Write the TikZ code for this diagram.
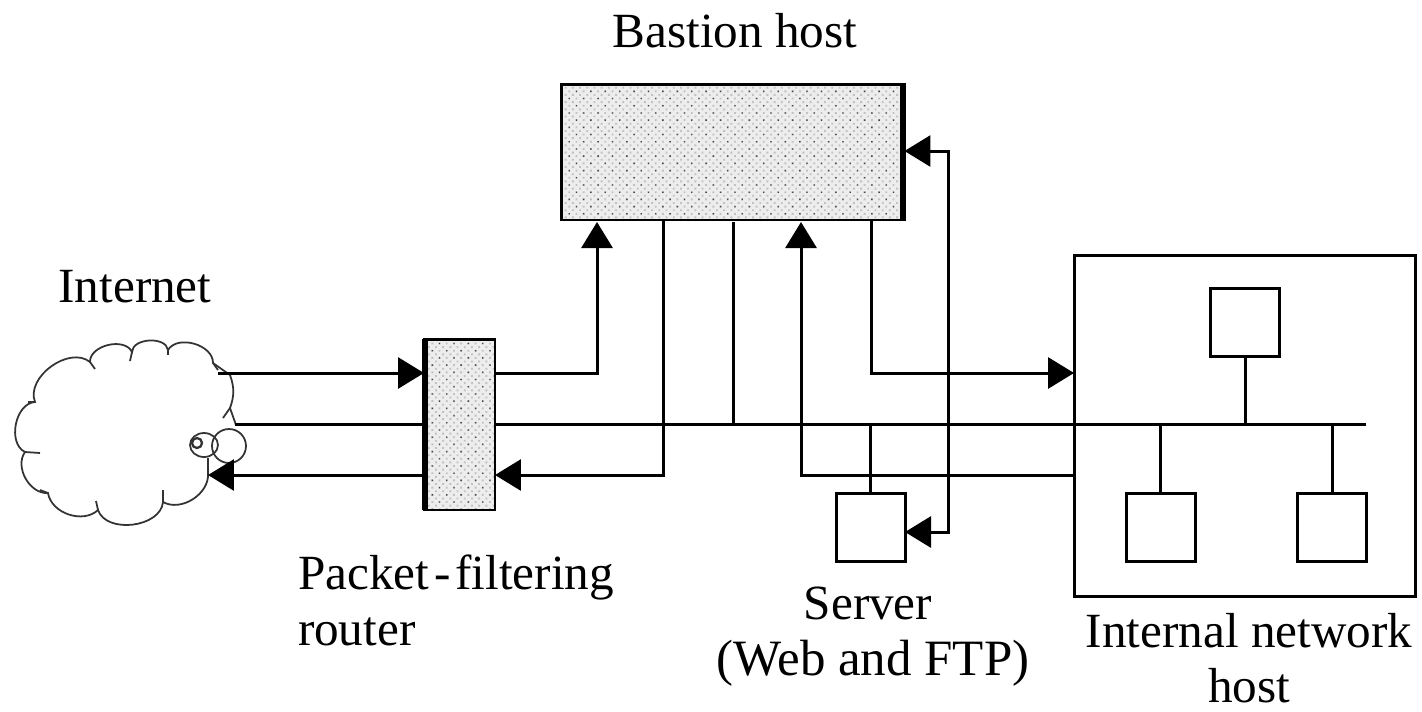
\documentclass[tikz,border=0pt]{standalone}
\usepackage{fontspec}
\setmainfont{Liberation Serif}
\usetikzlibrary{arrows.meta,patterns.meta}
\tikzset{
  wire/.style={line width=1.7pt},
  hostbox/.style={draw, line width=1.7pt, outer sep=0pt, inner sep=0pt, minimum width=1.38cm, minimum height=1.36cm},
  dotted box/.style={draw, line width=1.7pt, outer sep=0pt, inner sep=0pt,
    preaction={fill=black!7},
    preaction={pattern={Dots[distance=2.9pt,radius=0.75pt,angle=45]}, pattern color=black!24},
    pattern={Dots[distance=5.8pt,radius=0.55pt,angle=45]}, pattern color=black!72},
  caption/.style={font=\fontsize{28}{31.7}\selectfont, inner sep=0pt, outer sep=0pt},
  cloudline/.style={line width=1pt, black!80}
}
\begin{document}
\begin{tikzpicture}[x=0.02cm, y=-0.02cm, >={Triangle[length=0.52cm,width=0.62cm]}]
  \useasboundingbox (0,0) rectangle (1422,711);
  % Nube
  \draw[cloudline] (208,458) -- (208,473)
    to[bend left=62] (163,502) to[bend left=78] (98,510) to[bend left=62] (48,493)
    to[bend left=65] (25,452) to[bend left=75] (35,402) to[bend left=75] (90,362)
    to[bend left=78] (132,352) to[bend left=85] (168,350) to[bend left=75] (213,363)
    -- (230,375) to[bend left=20] (230,408) -- (236,425);
  \foreach \xa/\ya/\xb/\yb in {230/408/223/418, 163/502/163/490, 98/510/96/501, 48/493/40/490,
      25/452/40/453, 35/402/28/402, 90/362/95/369, 132/352/130/361, 168/350/168/355, 213/363/218/370}
    \draw[cloudline] (\xa,\ya) -- (\xb,\yb);
  \draw[cloudline] (204,445) ellipse (14 and 12);
  \draw[cloudline] (229,446) ellipse (17 and 17);
  \draw[cloudline, line width=1.3pt] (197,443) ellipse (5 and 5);
  \coordinate (cloudin) at (218,373);
  \coordinate (cloudbus) at (235,424);
  \coordinate (cloudout) at (208,475);
  % Cajas
  \node[dotted box, minimum width=1.42cm, minimum height=3.42cm] (router) at (459.5,424.5) {};
  \draw[line width=3.4pt] ([xshift=0.8pt]router.north west) -- ([xshift=0.8pt]router.south west);
  \node[dotted box, minimum width=6.86cm, minimum height=2.72cm] (bastion) at (733,152) {};
  \draw[line width=3.4pt] ([xshift=-0.8pt]bastion.north east) -- ([xshift=-0.8pt]bastion.south east);
  \node[hostbox] (server) at (870.5,527.5) {};
  \node[draw, wire, outer sep=0pt, inner sep=0pt, minimum width=6.84cm, minimum height=6.84cm] (internal) at (1245,426) {};
  \node[hostbox] (hosttop) at (1245,322.5) {};
  \node[hostbox] (hostleft) at (1160.5,527.5) {};
  \node[hostbox] (hostright) at (1332,527.5) {};
  % Bus
  \coordinate (busend) at (1366,424);
  \draw[wire] (cloudbus) -- (cloudbus -| router.west);
  \draw[wire] (cloudbus -| router.east) -- (busend);
  \draw[wire] (hosttop.south) -- (hosttop.south |- busend);
  \draw[wire] (hostleft.north) -- (hostleft.north |- busend);
  \draw[wire] (hostright.north) -- (hostright.north |- busend);
  \draw[wire] (server.north) -- (server.north |- busend);
  \coordinate (bastionbus) at (733,222);
  \draw[wire] (bastionbus) -- (bastionbus |- busend);
  % Flechas
  \draw[wire, ->] (cloudin) -- (cloudin -| router.west);
  \draw[wire, ->] (cloudin -| router.east) -| (597,222);
  \draw[wire, ->] (663,220) |- (router.east |- cloudout);
  \draw[wire, ->] (router.west |- cloudout) -- (cloudout);
  \draw[wire, ->] (871,220) |- (internal.west |- cloudin);
  \draw[wire, ->] (internal.west |- 0,475) -| (801,222);
  \draw[wire, <->] (bastion.east |- 0,151) -| (948,532) -- (server.east |- 0,532);
  % Textos
  \node[caption] (bastionlabel) at (735,31) {Bastion host};
  \node[caption] (internetlabel) at (135,287) {Internet};
  \node[caption, align=left, anchor=north west] (routerlabel) at (298,555) {Packet\kern2.8pt-\kern2.8pt filtering\\router};
  \node[caption, align=center, anchor=north] (serverlabel) at (873,587) {Server\hspace*{0.2cm}\\{\fontsize{29}{31.7}\selectfont (Web and FTP)}};
  \node[caption, align=center, anchor=north] (internallabel) at (1249,613) {Internal network\\host};
\end{tikzpicture}
\end{document}
